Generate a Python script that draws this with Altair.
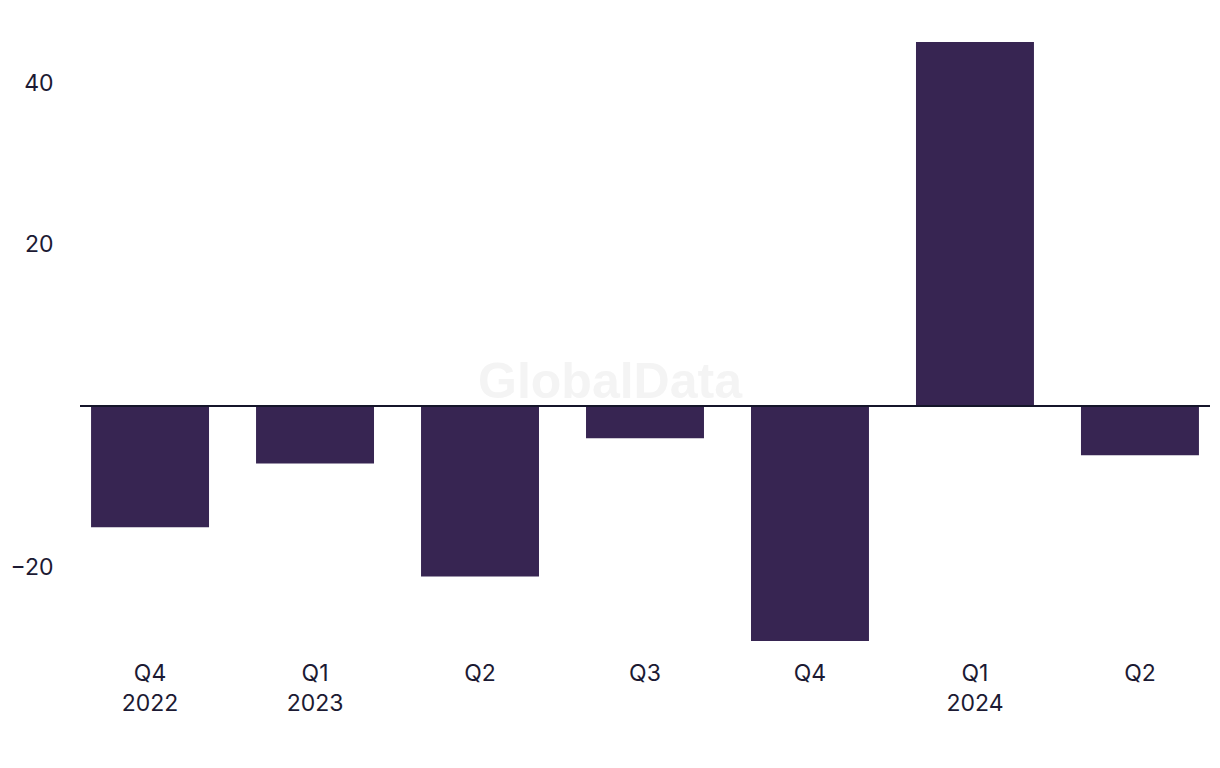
import altair as alt
import pandas as pd

periods = ["Q4 2022", "Q1 2023", "Q2 2023", "Q3 2023", "Q4 2023", "Q1 2024", "Q2 2024"]
values = [-15.0, -7.1, -21.1, -4.0, -29.1, 45.1, -6.1]
year_shown = ["Q4 2022", "Q1 2023", "Q1 2024"]
y_ticks = [-20, 20, 40]

df = pd.DataFrame({"period": periods, "value": values})

FONT = "Inter"
TXT = "#1c1a33"
BAR = "#372552"

label_expr = (
    "indexof(" + str(year_shown) + ", datum.value) >= 0 ? split(datum.value, ' ') : slice(datum.value, 0, 2)"
)

x = alt.X(
    "period:N",
    sort=periods,
    scale=alt.Scale(paddingInner=0.285, paddingOuter=0.067),
    axis=alt.Axis(
        title=None, domain=False, ticks=False, labelAngle=0,
        labelExpr=label_expr, labelFont=FONT, labelFontSize=23,
        labelColor=TXT, labelPadding=21, labelLineHeight=30,
    ),
)
y = alt.Y(
    "value:Q",
    scale=alt.Scale(domain=[-29.1, 45.1], nice=False, zero=False),
    axis=alt.Axis(
        title=None, domain=False, ticks=False, grid=False, values=y_ticks,
        labelFont=FONT, labelFontSize=23, labelColor=TXT, labelPadding=27,
    ),
)

bars = alt.Chart(df).mark_bar(color=BAR).encode(x=x, y=y)

zero = alt.Chart(pd.DataFrame({"z": [0]})).mark_rule(color="#15152a", strokeWidth=2).encode(
    y=alt.Y("z:Q", scale=alt.Scale(domain=[-29.1, 45.1], nice=False, zero=False))
)

watermark = alt.Chart(pd.DataFrame({"t": ["GlobalData"]})).mark_text(
    font="Liberation Sans", fontSize=50, fontWeight="bold", color="#f4f4f4",
    align="center", baseline="middle",
).encode(text="t:N", x=alt.value(530), y=alt.value(341))

chart = alt.layer(watermark, bars, zero).properties(
    width=1130, height=599,
    background="white",
    autosize=alt.AutoSizeParams(type="none"),
    padding={"left": 72, "top": 34, "right": 2, "bottom": 100},
).configure_view(strokeWidth=0, stroke="transparent")

chart.save("out.html", embed_options={"renderer": "svg", "actions": False})
